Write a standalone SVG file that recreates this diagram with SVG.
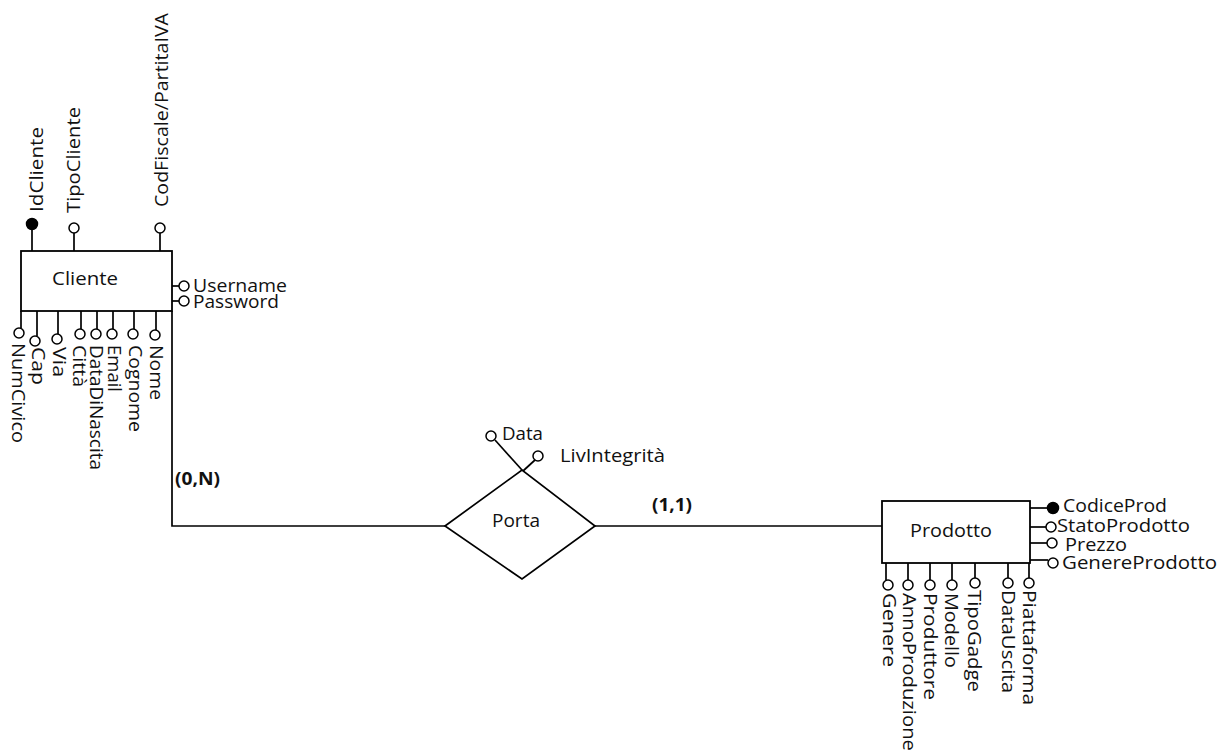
<svg xmlns="http://www.w3.org/2000/svg" width="1230" height="753" viewBox="0 0 1230 753">
  <style>
    .t { font-family: "Open Sans", "Noto Sans", "DejaVu Sans", sans-serif; font-size: 19px; fill: #111; }
    .s { font-size: 17.5px; }
    .b { font-weight: bold; font-size: 18px; }
    .ln { stroke: #000; stroke-width: 1.7; fill: none; }
    .box { stroke: #000; stroke-width: 1.8; fill: #fff; }
    .ao { stroke: #000; stroke-width: 1.5; fill: #fff; }
    .ak { stroke: #000; stroke-width: 1.5; fill: #000; }
  </style>
  <rect width="1230" height="753" fill="#fff"/>

  <!-- connectors between entities and the relationship -->
  <g id="connectors">
    <polyline class="ln" points="172,311 172,526 445,526"/>
    <line class="ln" x1="595" y1="526" x2="882" y2="526"/>
    <text class="t b" x="175" y="485" textLength="45" lengthAdjust="spacingAndGlyphs">(0,N)</text>
    <text class="t b" x="652" y="511" textLength="40" lengthAdjust="spacingAndGlyphs">(1,1)</text>
  </g>

  <!-- entity Cliente -->
  <g id="cliente">
    <rect class="box" x="21" y="251" width="151" height="60"/>
    <text class="t" x="52" y="285" textLength="66" lengthAdjust="spacingAndGlyphs">Cliente</text>

    <!-- top attributes -->
    <line class="ln" x1="32" y1="251" x2="32" y2="229"/>
    <circle class="ak" cx="32" cy="224" r="5.5"/>
    <text class="t" transform="translate(43,212) rotate(-90)" textLength="85" lengthAdjust="spacingAndGlyphs">IdCliente</text>

    <line class="ln" x1="74" y1="251" x2="74" y2="233"/>
    <circle class="ao" cx="74" cy="228" r="5"/>
    <text class="t" transform="translate(80,213) rotate(-90)" textLength="106" lengthAdjust="spacingAndGlyphs">TipoCliente</text>

    <line class="ln" x1="160" y1="251" x2="160" y2="233"/>
    <circle class="ao" cx="160" cy="228" r="5"/>
    <text class="t" transform="translate(168,207) rotate(-90)" textLength="194" lengthAdjust="spacingAndGlyphs">CodFiscale/PartitaIVA</text>

    <!-- right attributes -->
    <line class="ln" x1="172" y1="286" x2="179" y2="286"/>
    <circle class="ao" cx="184" cy="286" r="5"/>
    <text class="t s" x="193" y="292" textLength="94" lengthAdjust="spacingAndGlyphs">Username</text>

    <line class="ln" x1="172" y1="301" x2="179" y2="301"/>
    <circle class="ao" cx="184" cy="301" r="5"/>
    <text class="t s" x="193" y="308" textLength="86" lengthAdjust="spacingAndGlyphs">Password</text>

    <!-- bottom attributes -->
    <line class="ln" x1="21" y1="311" x2="21" y2="328"/>
    <circle class="ao" cx="19" cy="333" r="5"/>
    <text class="t" transform="translate(12,343) rotate(90)" textLength="100" lengthAdjust="spacingAndGlyphs">NumCivico</text>

    <line class="ln" x1="37" y1="311" x2="37" y2="336"/>
    <circle class="ao" cx="35" cy="341" r="5"/>
    <text class="t" transform="translate(32,347) rotate(90)" textLength="38" lengthAdjust="spacingAndGlyphs">Cap</text>

    <line class="ln" x1="58" y1="311" x2="58" y2="334"/>
    <circle class="ao" cx="57" cy="339" r="5"/>
    <text class="t" transform="translate(53,347) rotate(90)" textLength="30" lengthAdjust="spacingAndGlyphs">Via</text>

    <line class="ln" x1="81" y1="311" x2="81" y2="329"/>
    <circle class="ao" cx="80" cy="334" r="5"/>
    <text class="t" transform="translate(73,345) rotate(90)" textLength="42" lengthAdjust="spacingAndGlyphs">Città</text>

    <line class="ln" x1="97" y1="311" x2="97" y2="329"/>
    <circle class="ao" cx="96" cy="334" r="5"/>
    <text class="t" transform="translate(90,345) rotate(90)" textLength="125" lengthAdjust="spacingAndGlyphs">DataDiNascita</text>

    <line class="ln" x1="113" y1="311" x2="113" y2="329"/>
    <circle class="ao" cx="112" cy="334" r="5"/>
    <text class="t" transform="translate(108,345) rotate(90)" textLength="47" lengthAdjust="spacingAndGlyphs">Email</text>

    <line class="ln" x1="134" y1="311" x2="134" y2="329"/>
    <circle class="ao" cx="133" cy="334" r="5"/>
    <text class="t" transform="translate(129,345) rotate(90)" textLength="87" lengthAdjust="spacingAndGlyphs">Cognome</text>

    <line class="ln" x1="156" y1="311" x2="156" y2="330"/>
    <circle class="ao" cx="155" cy="335" r="5"/>
    <text class="t" transform="translate(150,345) rotate(90)" textLength="55" lengthAdjust="spacingAndGlyphs">Nome</text>
  </g>

  <!-- relationship Porta -->
  <g id="porta">
    <polygon class="ln" points="445,526 522,470 595,526 522,579"/>
    <text class="t" x="492" y="527" textLength="48" lengthAdjust="spacingAndGlyphs">Porta</text>

    <line class="ln" x1="495" y1="440" x2="522" y2="470"/>
    <circle class="ao" cx="491" cy="436" r="5"/>
    <text class="t" x="502" y="440" textLength="41" lengthAdjust="spacingAndGlyphs">Data</text>

    <line class="ln" x1="535" y1="460" x2="523" y2="471"/>
    <circle class="ao" cx="538" cy="456" r="5"/>
    <text class="t" x="560" y="462" textLength="105" lengthAdjust="spacingAndGlyphs">LivIntegrità</text>
  </g>

  <!-- entity Prodotto -->
  <g id="prodotto">
    <rect class="box" x="882" y="501" width="148" height="62"/>
    <text class="t" x="910" y="537" textLength="82" lengthAdjust="spacingAndGlyphs">Prodotto</text>

    <!-- right attributes -->
    <line class="ln" x1="1030" y1="508" x2="1048" y2="508"/>
    <circle class="ak" cx="1053" cy="508" r="5.5"/>
    <text class="t s" x="1063" y="512" textLength="104" lengthAdjust="spacingAndGlyphs">CodiceProd</text>

    <line class="ln" x1="1030" y1="527" x2="1046" y2="527"/>
    <circle class="ao" cx="1051" cy="527" r="5"/>
    <text class="t s" x="1057" y="532" textLength="133" lengthAdjust="spacingAndGlyphs">StatoProdotto</text>

    <line class="ln" x1="1030" y1="543" x2="1047" y2="543"/>
    <circle class="ao" cx="1052" cy="543" r="5"/>
    <text class="t s" x="1065" y="551" textLength="62" lengthAdjust="spacingAndGlyphs">Prezzo</text>

    <line class="ln" x1="1030" y1="560" x2="1048" y2="560"/>
    <circle class="ao" cx="1053" cy="563" r="5"/>
    <text class="t s" x="1062" y="569" textLength="155" lengthAdjust="spacingAndGlyphs">GenereProdotto</text>

    <!-- bottom attributes -->
    <line class="ln" x1="886" y1="563" x2="886" y2="580"/>
    <circle class="ao" cx="888" cy="585" r="5"/>
    <text class="t" transform="translate(883,593) rotate(90)" textLength="74" lengthAdjust="spacingAndGlyphs">Genere</text>

    <line class="ln" x1="908" y1="563" x2="908" y2="580"/>
    <circle class="ao" cx="908" cy="585" r="5"/>
    <text class="t" transform="translate(903,593) rotate(90)" textLength="158" lengthAdjust="spacingAndGlyphs">AnnoProduzione</text>

    <line class="ln" x1="930" y1="563" x2="930" y2="580"/>
    <circle class="ao" cx="930" cy="585" r="5"/>
    <text class="t" transform="translate(924,593) rotate(90)" textLength="107" lengthAdjust="spacingAndGlyphs">Produttore</text>

    <line class="ln" x1="952" y1="563" x2="952" y2="580"/>
    <circle class="ao" cx="952" cy="585" r="5"/>
    <text class="t" transform="translate(945,593) rotate(90)" textLength="75" lengthAdjust="spacingAndGlyphs">Modello</text>

    <line class="ln" x1="975" y1="563" x2="975" y2="578"/>
    <circle class="ao" cx="975" cy="583" r="5"/>
    <text class="t" transform="translate(968,590) rotate(90)" textLength="102" lengthAdjust="spacingAndGlyphs">TipoGadge</text>

    <line class="ln" x1="1008" y1="563" x2="1008" y2="578"/>
    <circle class="ao" cx="1008" cy="583" r="5"/>
    <text class="t" transform="translate(1002,590) rotate(90)" textLength="103" lengthAdjust="spacingAndGlyphs">DataUscita</text>

    <line class="ln" x1="1029" y1="563" x2="1029" y2="578"/>
    <circle class="ao" cx="1029" cy="583" r="5"/>
    <text class="t" transform="translate(1023,590) rotate(90)" textLength="115" lengthAdjust="spacingAndGlyphs">Piattaforma</text>
  </g>
</svg>
